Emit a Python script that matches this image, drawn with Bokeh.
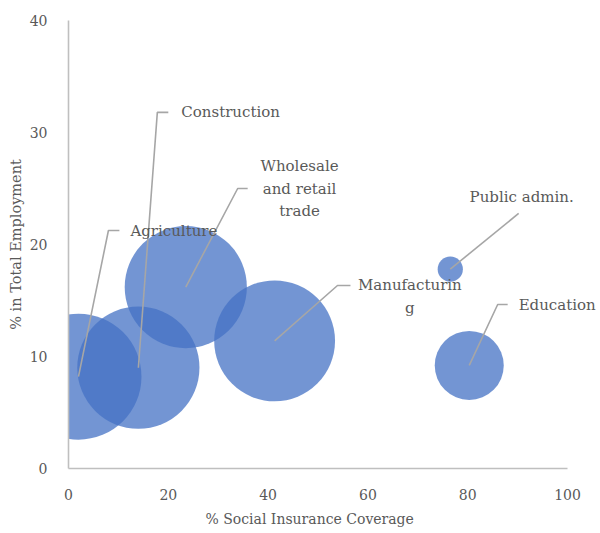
from bokeh.plotting import figure
from bokeh.models import ColumnDataSource, FixedTicker, Title
from bokeh.embed import file_html
from bokeh.resources import INLINE
from bokeh.core.properties import value
import math

# --- data -------------------------------------------------------------
sectors = ["Agriculture", "Construction", "Wholesale and retail trade",
           "Manufacturing", "Public admin.", "Education"]
coverage = [2.0, 14.0, 23.5, 41.3, 76.5, 80.3]      # % social insurance coverage
employment = [8.2, 9.0, 16.2, 11.4, 17.8, 9.2]      # % in total employment
bubble_weight = [100, 94, 94, 92, 4, 30]            # relative bubble size (area)

x_ticks = [0, 20, 40, 60, 80, 100]
y_ticks = [0, 10, 20, 30, 40]

# --- styling / layout -------------------------------------------------
FONT = "DejaVu Serif"
TEXT_COLOR = "#595959"
AXIS_COLOR = "#bfbfbf"
BUBBLE_COLOR = "#4472C4"
LEADER_COLOR = "#a6a6a6"
MAX_DIAMETER = 126
X_VIEW_END = 106.2   # room to the right of the axis for the outer labels

# label placement: elbow point, end of horizontal stub, text lines
label_layout = {
    "Agriculture": dict(elbow=(8.0, 21.25), stub=10.2,
                        lines=[("Agriculture", 12.4, 21.25)], align="left"),
    "Construction": dict(elbow=(17.8, 31.8), stub=20.0,
                         lines=[("Construction", 22.6, 31.8)], align="left"),
    "Wholesale and retail trade": dict(elbow=(33.9, 25.0), stub=35.9,
                                       lines=[("Wholesale", 46.3, 27.05),
                                              ("and retail", 46.3, 25.0),
                                              ("trade", 46.3, 22.95)],
                                       align="center"),
    "Manufacturing": dict(elbow=(53.9, 16.34), stub=56.5,
                          lines=[("Manufacturin", 68.4, 16.34),
                                 ("g", 68.4, 14.3)], align="center"),
    "Public admin.": dict(elbow=(90.2, 22.77), stub=None,
                          lines=[("Public admin.", 90.8, 24.2)], align="center"),
    "Education": dict(elbow=(86.0, 14.64), stub=88.0,
                      lines=[("Education", 90.2, 14.64)], align="left"),
}

p = figure(width=600, height=533, x_range=(0, X_VIEW_END), y_range=(0, 40),
           output_backend="svg", toolbar_location=None,
           min_border_left=68, min_border_right=2,
           min_border_top=20, min_border_bottom=65)
p.outline_line_color = None
p.grid.visible = False
p.background_fill_color = "white"
p.border_fill_color = "white"

# bubbles
diam = [MAX_DIAMETER * math.sqrt(w / max(bubble_weight)) for w in bubble_weight]
src = ColumnDataSource(dict(x=coverage, y=employment, size=diam, name=sectors))
p.scatter("x", "y", size="size", source=src, marker="circle",
          fill_color=BUBBLE_COLOR, fill_alpha=0.75, line_color=None)

# leader lines from each bubble centre to its label
xs, ys = [], []
for name, cx, cy in zip(sectors, coverage, employment):
    lay = label_layout[name]
    ex, ey = lay["elbow"]
    px, py = [cx, ex], [cy, ey]
    if lay["stub"] is not None:
        px.append(lay["stub"])
        py.append(ey)
    xs.append(px)
    ys.append(py)
p.multi_line(xs, ys, line_color=LEADER_COLOR, line_width=1.6)

# data labels
for align in ("left", "center"):
    tx, ty, tt = [], [], []
    for name in sectors:
        lay = label_layout[name]
        if lay["align"] != align:
            continue
        for t, lx, ly in lay["lines"]:
            tx.append(lx)
            ty.append(ly)
            tt.append(t)
    p.text(tx, ty, text=tt, text_align=align, text_baseline="middle",
           text_font=value(FONT), text_font_size="15px", text_color=TEXT_COLOR)

# axes
for ax in (p.xaxis[0], p.yaxis[0]):
    ax.axis_line_color = AXIS_COLOR
    ax.axis_line_width = 1.6
    ax.major_tick_line_color = None
    ax.minor_tick_line_color = None
    ax.major_label_text_font = FONT
    ax.major_label_text_font_size = "14px"
    ax.major_label_text_color = TEXT_COLOR
    ax.axis_label_text_font = FONT
    ax.axis_label_text_font_size = "14.5px"
    ax.axis_label_text_font_style = "normal"
    ax.axis_label_text_color = TEXT_COLOR

p.xaxis.ticker = FixedTicker(ticks=x_ticks)
p.yaxis.ticker = FixedTicker(ticks=y_ticks)
p.xaxis.bounds = (0, 100)
p.xaxis.major_label_standoff = 14
p.yaxis.axis_label = "% in Total Employment"
p.yaxis.major_label_standoff = 15
p.yaxis.axis_label_standoff = 3

# x-axis title, centred under the 0-100 axis line rather than the wider frame
p.add_layout(Title(text="% Social Insurance Coverage", align="left", offset=137,
                   text_font=FONT, text_font_size="14px",
                   text_font_style="normal", text_color=TEXT_COLOR,
                   standoff=13), "below")

open("out.html", "w").write(file_html(p, INLINE))
